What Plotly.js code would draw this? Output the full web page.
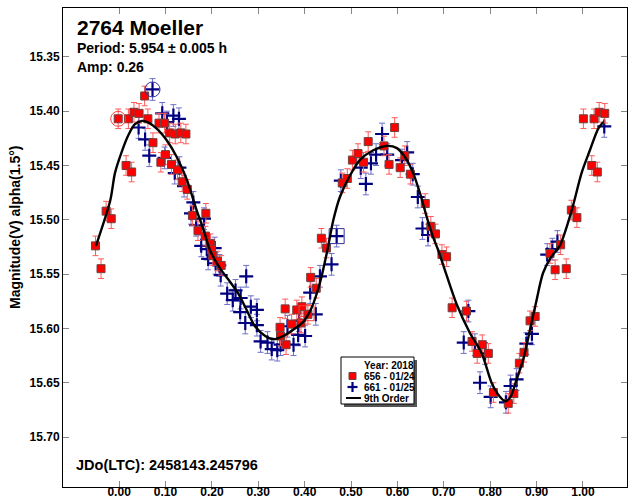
<!DOCTYPE html>
<html>
<head>
<meta charset="utf-8">
<script src="https://cdn.plot.ly/plotly-2.35.2.min.js"></script>
<style>html,body{margin:0;padding:0;background:#fff;}#chart{width:634px;height:498px;}</style>
</head>
<body>
<div id="chart"></div>
<script>
// ---- data: session 656 (01/24), red squares ----
var redPhase = [-0.051,-0.039,-0.028,-0.017,-0.002,0.015,0.020,0.027,0.032,0.043,0.055,0.062,0.073,0.086,0.090,0.098,0.100,0.109,0.113,0.121,0.126,0.133,0.136,0.144,0.147,0.158,0.170,0.187,0.186,0.197,0.199,0.202,0.212,0.220,
  0.347,0.348,0.360,0.358,0.372,0.383,0.392,0.394,0.407,0.413,0.425,0.436,0.447,0.481,0.492,0.503,0.515,0.527,0.537,0.571,0.582,0.594,0.606,0.616,0.628,0.660,0.672,0.682,0.696,0.706,
  0.718,0.749,0.761,0.772,0.783,0.796,0.807,0.839,0.851,0.863,0.873,0.886,0.897,0.929,0.940,0.952,0.964,0.975,0.987,1.001,1.019,1.024,1.031,1.035,1.047];
var redMag = [15.524,15.545,15.492,15.499,15.407,15.450,15.407,15.456,15.401,15.402,15.386,15.407,15.429,15.411,15.447,15.411,15.440,15.420,15.449,15.421,15.454,15.420,15.465,15.421,15.472,15.496,15.510,15.494,15.515,15.522,15.527,15.533,15.538,15.542,
  15.599,15.607,15.615,15.582,15.596,15.583,15.595,15.580,15.587,15.553,15.563,15.517,15.526,15.466,15.462,15.445,15.439,15.447,15.428,15.432,15.449,15.415,15.452,15.441,15.458,15.485,15.506,15.513,15.532,15.534,
  15.581,15.584,15.612,15.623,15.615,15.623,15.659,15.669,15.660,15.632,15.622,15.593,15.589,15.531,15.546,15.523,15.545,15.491,15.498,15.407,15.450,15.407,15.456,15.401,15.402];
var redErr = 0.009;

// ---- data: session 661 (01/25), blue crosses ----
var bluePhase = [0.042,0.056,0.065,0.072,0.093,0.098,0.103,0.117,0.120,0.129,0.130,0.140,0.155,0.160,0.166,0.177,0.183,0.189,0.192,0.206,0.208,0.216,0.219,0.233,0.245,0.251,0.262,0.261,0.272,0.274,0.284,0.297,0.297,0.305,0.320,0.329,0.341,0.348,0.363,0.376,0.386,0.388,0.401,0.412,0.424,0.433,0.458,0.469,0.478,
  0.521,0.532,0.543,0.554,0.567,0.578,0.610,0.621,0.633,0.644,0.654,0.666,0.743,0.753,0.767,0.778,0.789,0.801,0.834,0.844,0.857,0.878,0.890,0.923,0.934,0.945,1.046];
var blueMag = [15.415,15.426,15.441,15.380,15.402,15.443,15.410,15.404,15.457,15.407,15.452,15.469,15.494,15.484,15.505,15.524,15.499,15.527,15.536,15.526,15.540,15.542,15.551,15.568,15.574,15.565,15.572,15.585,15.595,15.552,15.580,15.583,15.597,15.612,15.613,15.619,15.620,15.615,15.598,15.615,15.606,15.593,15.607,15.567,15.587,15.552,15.541,15.515,15.464,
  15.452,15.467,15.448,15.440,15.421,15.440,15.445,15.438,15.458,15.479,15.508,15.514,15.613,15.584,15.615,15.650,15.623,15.663,15.668,15.653,15.647,15.614,15.605,15.532,15.527,15.520,15.414];
var blueErr = 0.010;

// ---- highlighted points ----
var redCirclePhase = [-0.002], redCircleMag = [15.407];
var blueCirclePhase = [0.072], blueCircleMag = [15.380];
var redBoxPhase = [0.404], redBoxMag = [15.586];
var blueBoxPhase = [0.469], blueBoxMag = [15.515];

// ---- 9th order Fourier fit ----
var fitPhase = [-0.050,-0.019,-0.009,0.006,0.020,0.034,0.049,0.061,0.081,0.103,0.124,0.146,0.167,0.182,0.196,0.218,0.239,0.257,0.275,0.293,0.315,0.333,0.354,0.376,0.397,0.415,0.433,0.448,0.462,0.476,0.498,0.519,0.548,0.577,0.599,0.616,0.634,0.649,0.663,0.677,0.688,0.706,0.728,0.756,0.782,0.803,0.821,0.832,0.844,0.857,0.871,0.886,0.900,0.914,0.932,0.950,0.976,0.997,1.015,1.033,1.044];
var fitMag = [15.524,15.482,15.457,15.437,15.422,15.412,15.409,15.410,15.416,15.427,15.442,15.463,15.491,15.509,15.528,15.545,15.557,15.568,15.583,15.598,15.607,15.610,15.607,15.601,15.594,15.581,15.558,15.530,15.500,15.479,15.459,15.445,15.436,15.432,15.434,15.442,15.457,15.476,15.497,15.516,15.528,15.551,15.578,15.604,15.623,15.650,15.663,15.667,15.663,15.647,15.629,15.601,15.574,15.549,15.534,15.524,15.491,15.457,15.436,15.416,15.410];

// ---- labels ----
var xTickVals = [0,0.1,0.2,0.3,0.4,0.5,0.6,0.7,0.8,0.9,1.0];
var yTickVals = [15.35,15.40,15.45,15.50,15.55,15.60,15.65,15.70];
var titleText = "2764 Moeller";
var periodText = "Period: 5.954 \u00b1 0.005 h";
var ampText = "Amp: 0.26";
var jdText = "JDo(LTC): 2458143.245796";
var yTitle = "Magnitude(V) alpha(1.5\u00b0)";
var legendTitle = "Year: 2018";
var legendNames = ["656 - 01/24", "661 - 01/25", "9th Order"];

// ---- layout helpers (pixel -> paper) ----
var W = 634, H = 498, L = 63, R = 627, T = 8, B = 487;
function px(x){ return (x - L) / (R - L); }
function py(y){ return 1 - (y - T) / (B - T); }
var FONT = "Liberation Sans, Arial, sans-serif";

var traces = [
  {x: bluePhase, y: blueMag, type: 'scatter', mode: 'markers', name: legendNames[1],
   marker: {symbol: 'cross-thin-open', size: 10, color: '#000080', line: {color: '#000080', width: 2.2}},
   error_y: {type: 'constant', value: blueErr, color: '#6f6fc8', thickness: 1, width: 3}},
  {x: redPhase, y: redMag, type: 'scatter', mode: 'markers', name: legendNames[0],
   marker: {symbol: 'square', size: 8, color: '#ff0000', line: {color: '#6e4040', width: 1}},
   error_y: {type: 'constant', value: redErr, color: '#ff5a5a', thickness: 1, width: 3}},
  {x: redCirclePhase, y: redCircleMag, type: 'scatter', mode: 'markers', showlegend: false,
   marker: {symbol: 'circle-open', size: 15, color: '#ff4040', line: {width: 1}}},
  {x: blueCirclePhase, y: blueCircleMag, type: 'scatter', mode: 'markers', showlegend: false,
   marker: {symbol: 'circle-open', size: 15, color: '#3030a0', line: {width: 1}}},
  {x: redBoxPhase, y: redBoxMag, type: 'scatter', mode: 'markers', showlegend: false,
   marker: {symbol: 'square-open', size: 15, color: '#ff4040', line: {width: 1}}},
  {x: blueBoxPhase, y: blueBoxMag, type: 'scatter', mode: 'markers', showlegend: false,
   marker: {symbol: 'square-open', size: 15, color: '#3030a0', line: {width: 1}}},
  {x: fitPhase, y: fitMag, type: 'scatter', mode: 'lines', name: legendNames[2],
   line: {color: '#000000', width: 2.4, shape: 'spline', smoothing: 0.8}}
];

var tickFont = {family: FONT, size: 12, color: '#000', weight: 'bold'};
var layout = {
  width: W, height: H,
  margin: {l: L, r: W - R, t: T, b: H - B, pad: 0},
  paper_bgcolor: '#fff', plot_bgcolor: '#fff',
  showlegend: false,
  xaxis: {range: [-0.121, 1.095], tickvals: xTickVals, tickformat: '.2f', ticks: 'inside', ticklen: 6,
          tickcolor: '#888', showgrid: false, zeroline: false, showline: true, linecolor: '#000', linewidth: 1,
          mirror: 'ticks', tickfont: tickFont, automargin: false, ticklabelstandoff: -6},
  yaxis: {range: [15.746, 15.305], tickvals: yTickVals, tickformat: '.2f', ticks: 'inside', ticklen: 6,
          tickcolor: '#888', showgrid: false, zeroline: false, showline: true, linecolor: '#000', linewidth: 1,
          mirror: 'ticks', tickfont: tickFont, automargin: false},
  annotations: [
    {text: titleText, xref: 'paper', yref: 'paper', x: px(75), y: py(27), xanchor: 'left', yanchor: 'middle', showarrow: false,
     font: {family: FONT, size: 21, color: '#000', weight: 'bold'}},
    {text: periodText, xref: 'paper', yref: 'paper', x: px(75), y: py(48), xanchor: 'left', yanchor: 'middle', showarrow: false,
     font: {family: FONT, size: 14, color: '#000', weight: 'bold'}},
    {text: ampText, xref: 'paper', yref: 'paper', x: px(75), y: py(67), xanchor: 'left', yanchor: 'middle', showarrow: false,
     font: {family: FONT, size: 14, color: '#000', weight: 'bold'}},
    {text: jdText, xref: 'paper', yref: 'paper', x: px(74), y: py(465), xanchor: 'left', yanchor: 'middle', showarrow: false,
     font: {family: FONT, size: 14.5, color: '#000', weight: 'bold'}},
    {text: yTitle, xref: 'paper', yref: 'paper', x: px(15), y: py(227), xanchor: 'center', yanchor: 'middle', showarrow: false,
     textangle: -90, font: {family: FONT, size: 14, color: '#000', weight: 'bold'}},
    {text: legendTitle, xref: 'paper', yref: 'paper', x: px(362), y: py(365), xanchor: 'left', yanchor: 'middle', showarrow: false,
     font: {family: FONT, size: 10, color: '#000', weight: 'bold'}},
    {text: legendNames[0], xref: 'paper', yref: 'paper', x: px(362), y: py(376), xanchor: 'left', yanchor: 'middle', showarrow: false,
     font: {family: FONT, size: 10, color: '#000', weight: 'bold'}},
    {text: legendNames[1], xref: 'paper', yref: 'paper', x: px(362), y: py(387), xanchor: 'left', yanchor: 'middle', showarrow: false,
     font: {family: FONT, size: 10, color: '#000', weight: 'bold'}},
    {text: legendNames[2], xref: 'paper', yref: 'paper', x: px(362), y: py(398), xanchor: 'left', yanchor: 'middle', showarrow: false,
     font: {family: FONT, size: 10, color: '#000', weight: 'bold'}}
  ],
  shapes: [
    // legend shadow and box
    {type: 'rect', xref: 'paper', yref: 'paper', x0: px(344), x1: px(417), y0: py(360), y1: py(407), fillcolor: '#555', line: {width: 0}, layer: 'above'},
    {type: 'rect', xref: 'paper', yref: 'paper', x0: px(341), x1: px(414), y0: py(357), y1: py(404), fillcolor: '#fff', line: {color: '#000', width: 1}, layer: 'above'},
    // red square
    {type: 'rect', xref: 'paper', yref: 'paper', x0: px(349), x1: px(356), y0: py(372.5), y1: py(379.5), fillcolor: '#ff0000', line: {color: '#6e4040', width: 1}, layer: 'above'},
    // blue plus
    {type: 'line', xref: 'paper', yref: 'paper', x0: px(347.5), x1: px(357.5), y0: py(387), y1: py(387), line: {color: '#000080', width: 2.2}, layer: 'above'},
    {type: 'line', xref: 'paper', yref: 'paper', x0: px(352.5), x1: px(352.5), y0: py(382), y1: py(392), line: {color: '#000080', width: 2.2}, layer: 'above'},
    // fit line
    {type: 'line', xref: 'paper', yref: 'paper', x0: px(346), x1: px(361), y0: py(398), y1: py(398), line: {color: '#000', width: 2}, layer: 'above'}
  ]
};

Plotly.newPlot('chart', traces, layout, {displayModeBar: false, staticPlot: true});
</script>
</body>
</html>
